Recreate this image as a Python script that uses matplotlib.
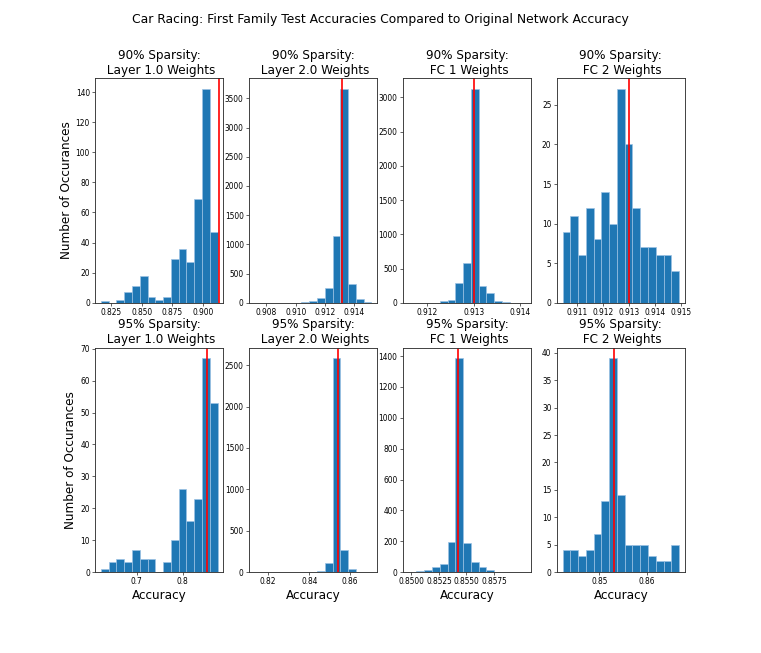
import numpy as np
import matplotlib
matplotlib.use("Agg")
import matplotlib.pyplot as plt

# ---- data ----
titles = [
    "90% Sparsity:\n Layer 1.0 Weights", "90% Sparsity:\n Layer 2.0 Weights",
    "90% Sparsity:\n FC 1 Weights", "90% Sparsity:\n FC 2 Weights",
    "95% Sparsity:\n Layer 1.0 Weights", "95% Sparsity:\n Layer 2.0 Weights",
    "95% Sparsity:\n FC 1 Weights", "95% Sparsity:\n FC 2 Weights",
]
# histogram range (min, max accuracy) per panel, 15 bins each
bin_lo = [0.81677, 0.9072, 0.91160, 0.91045, 0.6215, 0.81345, 0.84975, 0.8423]
bin_hi = [0.91172, 0.91518, 0.91411, 0.91494, 0.8765, 0.8703, 0.86033, 0.86675]
counts = [
    [1, 0, 2, 7, 11, 18, 4, 2, 4, 29, 36, 27, 69, 142, 47],
    [1, 0, 0, 0, 0, 0, 5, 25, 85, 250, 1150, 3660, 320, 60, 12],
    [1, 0, 0, 0, 27, 40, 292, 584, 3122, 249, 144, 20, 15, 2, 1],
    [9, 11, 6, 12, 8, 14, 10, 27, 20, 12, 7, 7, 6, 6, 4],
    [1, 3, 4, 3, 7, 4, 4, 0, 3, 10, 26, 16, 23, 67, 53],
    [1, 0, 0, 0, 0, 0, 0, 0, 12, 107, 2583, 261, 38, 2, 1],
    [2, 8, 14, 32, 49, 196, 1386, 188, 62, 31, 12, 2, 1, 1, 1],
    [4, 4, 3, 4, 7, 13, 39, 14, 5, 5, 5, 3, 2, 2, 5],
]
original_acc = [0.9131, 0.9132, 0.9130, 0.9130, 0.8536, 0.8540, 0.8542, 0.8531]
xticks = [
    [0.825, 0.850, 0.875, 0.900],
    [0.908, 0.910, 0.912, 0.914],
    [0.912, 0.913, 0.914],
    [0.911, 0.912, 0.913, 0.914, 0.915],
    [0.7, 0.8],
    [0.82, 0.84, 0.86],
    [0.8500, 0.8525, 0.8550, 0.8575],
    [0.85, 0.86],
]
xtick_fmt = ["%.3f", "%.3f", "%.3f", "%.3f", "%.1f", "%.2f", "%.4f", "%.2f"]

DPI = 761 / 14
fig, axes = plt.subplots(2, 4, figsize=(14, 653 / DPI), dpi=DPI)
fig.subplots_adjust(left=0.125, right=0.9, top=0.88, bottom=0.124, wspace=0.2, hspace=0.2)
fig.suptitle("Car Racing: First Family Test Accuracies Compared to Original Network Accuracy",
             fontsize=16.5)

for i, ax in enumerate(axes.flat):
    edges = np.linspace(bin_lo[i], bin_hi[i], len(counts[i]) + 1)
    ax.bar(edges[:-1], counts[i], width=np.diff(edges), align="edge",
           color="#1f77b4", edgecolor="#9cc2e4", linewidth=0.9)
    ax.axvline(original_acc[i], color="red", linewidth=2.2)
    ax.set_title(titles[i], fontsize=16)
    ax.set_xticks(xticks[i])
    ax.set_xticklabels([xtick_fmt[i] % t for t in xticks[i]])
    ax.tick_params(labelsize=10)
    for s in ax.spines.values():
        s.set_edgecolor("#333333")
        s.set_linewidth(1.2)
    if i % 4 == 0:
        ax.set_ylabel("Number of Occurances", fontsize=16)
    if i >= 4:
        ax.set_xlabel("Accuracy", fontsize=16)

fig.savefig("out.png", dpi=DPI)
